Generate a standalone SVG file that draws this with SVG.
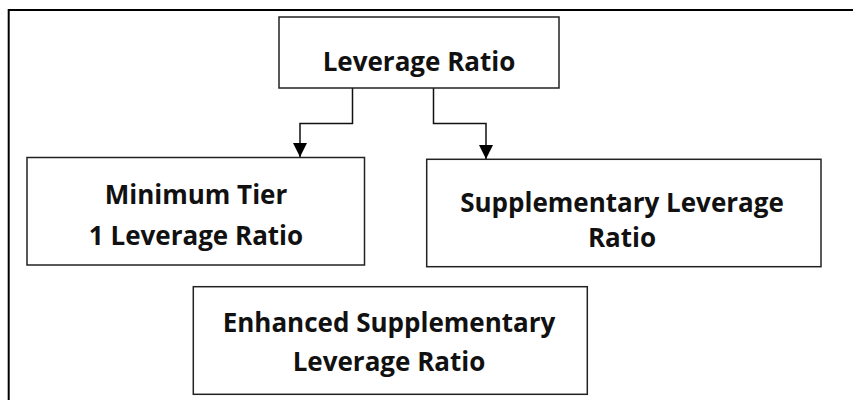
<svg xmlns="http://www.w3.org/2000/svg" width="853" height="400" viewBox="0 0 853 400">
<style>
.frame{fill:none;stroke:#000;stroke-width:2}
.box{fill:#fff;stroke:#222;stroke-width:1.5}
.lbl{font-family:"Open Sans","Noto Sans",sans-serif;font-weight:700;font-size:26px;fill:#111;text-anchor:middle}
.conn{fill:none;stroke:#111;stroke-width:1.5}
</style>
<defs>
<marker id="arr" viewBox="0 0 14 14" refX="14" refY="7" markerWidth="14" markerHeight="14" markerUnits="userSpaceOnUse" orient="auto">
<path d="M0,0 L14,7 L0,14 Z" fill="#000"/>
</marker>
</defs>
<rect width="853" height="400" fill="#fff"/>
<path class="frame" d="M8.7,401 V10 H854"/>
<g id="connectors">
<path class="conn" d="M352.5,88 V123.5 H300 V157" marker-end="url(#arr)"/>
<path class="conn" d="M433.5,88 V123.5 H486 V159" marker-end="url(#arr)"/>
</g>
<g id="node-leverage-ratio">
<rect class="box" x="279" y="17" width="280" height="71"/>
<text class="lbl" x="419" y="71">Leverage Ratio</text>
</g>
<g id="node-minimum-tier1">
<rect class="box" x="27" y="157.5" width="337.5" height="107.5"/>
<text class="lbl" x="196" y="203.5">Minimum Tier</text>
<text class="lbl" x="196" y="244.5">1 Leverage Ratio</text>
</g>
<g id="node-supplementary">
<rect class="box" x="426.7" y="159.3" width="394.3" height="107.4"/>
<text class="lbl" x="622" y="211.5">Supplementary Leverage</text>
<text class="lbl" x="622" y="246.5">Ratio</text>
</g>
<g id="node-enhanced">
<rect class="box" x="193.3" y="286.7" width="394" height="107.6"/>
<text class="lbl" x="389" y="332">Enhanced Supplementary</text>
<text class="lbl" x="389" y="371">Leverage Ratio</text>
</g>
</svg>
